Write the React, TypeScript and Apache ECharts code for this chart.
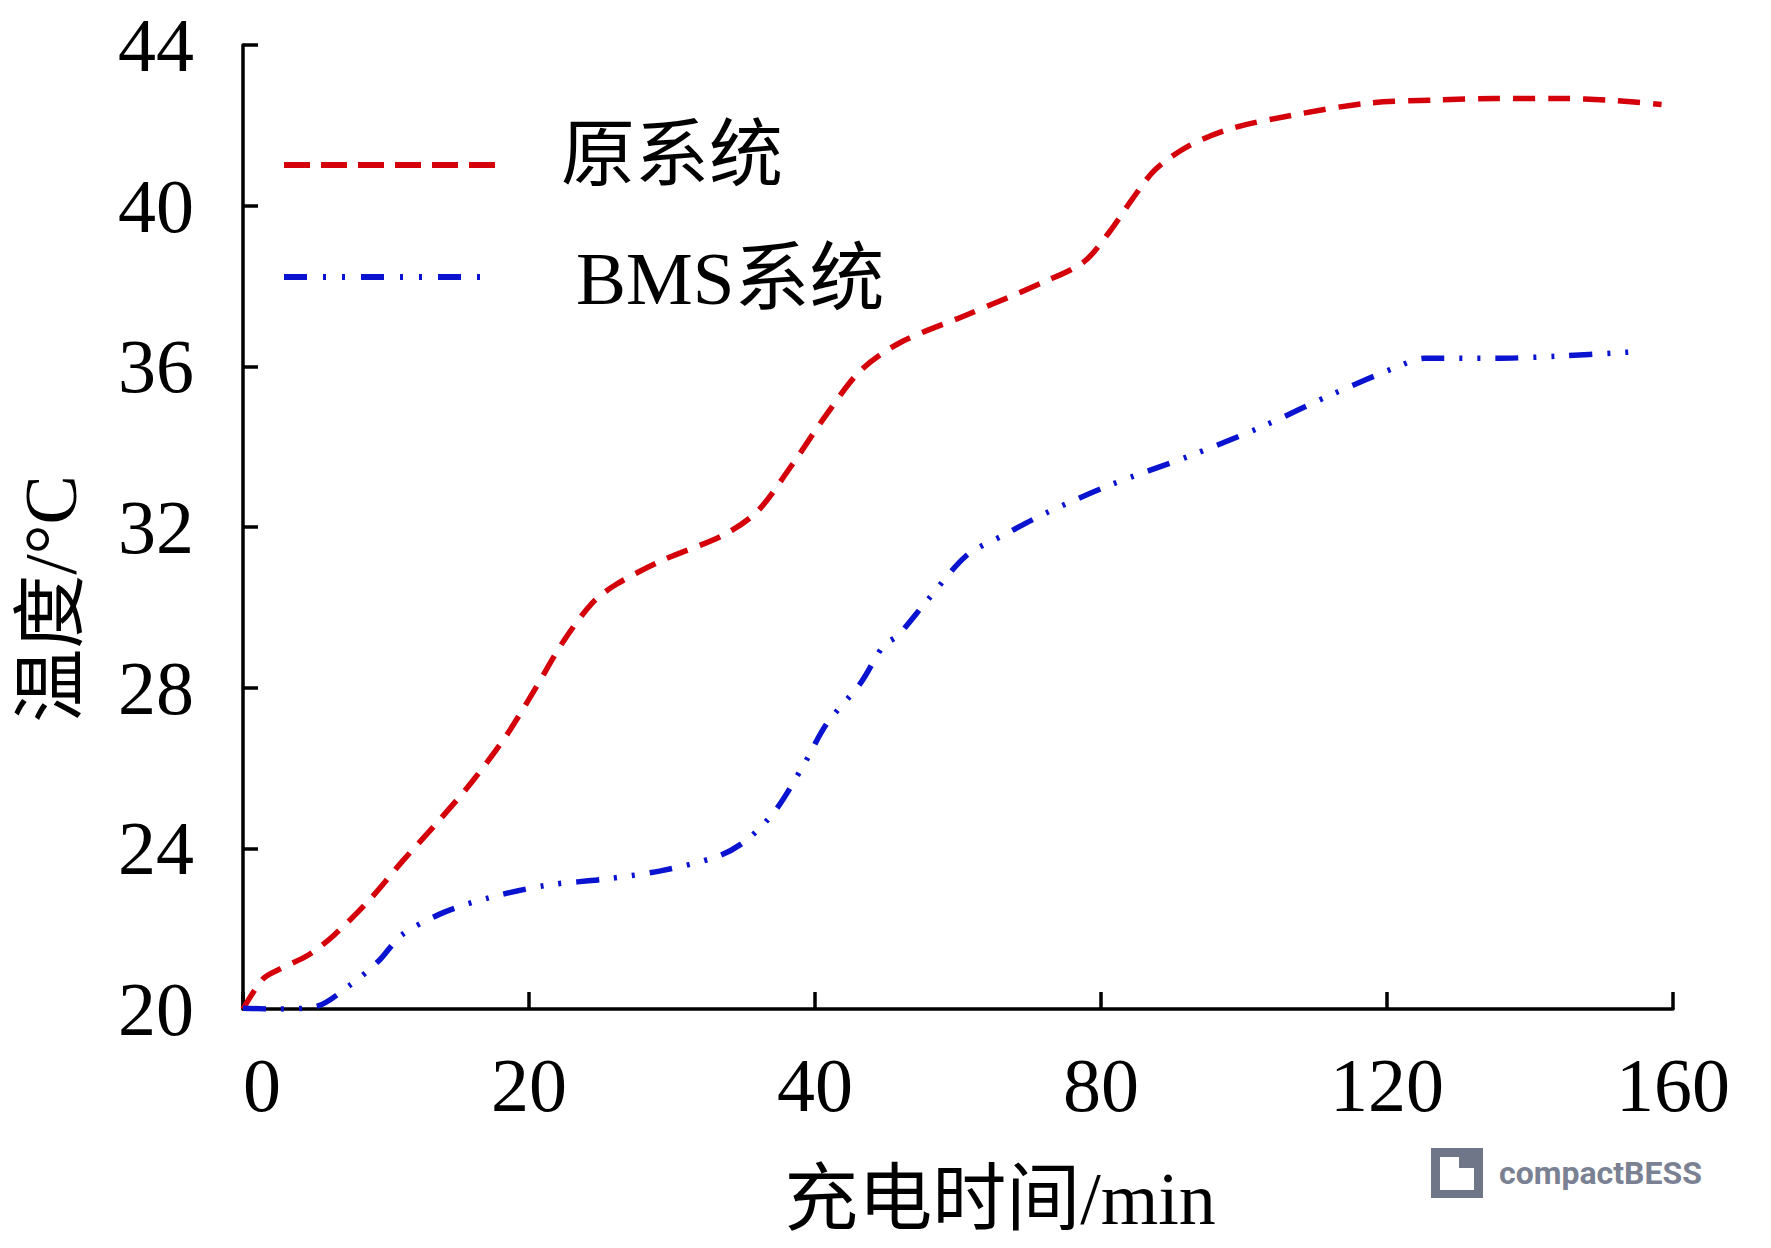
import React, { useEffect, useRef } from "react";
import * as echarts from "echarts";

// X axis: equally spaced ticks with these labels (minutes)
const xTickLabels = ["0", "20", "40", "80", "120", "160"];
const yMin = 20;
const yMax = 44;
const yStep = 4;

const seriesNames = ["原系统", "BMS系统"];

// positions are in tick-units along the x axis (0..5), values in °C
const originalSystem: [number, number][] = [
  [0, 20], [0.07, 20.75], [0.13, 21.0], [0.23, 21.35], [0.32, 21.85], [0.44, 22.7],
  [0.56, 23.7], [0.68, 24.65], [0.8, 25.65], [0.92, 26.8], [1.02, 27.95], [1.12, 29.15],
  [1.22, 30.1], [1.3, 30.55], [1.46, 31.15], [1.68, 31.8], [1.8, 32.4], [1.92, 33.55],
  [2.04, 34.8], [2.16, 35.9], [2.3, 36.6], [2.53, 37.28], [2.8, 38.1], [2.94, 38.6],
  [3.03, 39.35], [3.11, 40.17], [3.19, 40.9], [3.31, 41.5], [3.46, 41.93], [3.66, 42.24],
  [3.93, 42.55], [4.17, 42.63], [4.38, 42.67], [4.59, 42.67], [4.79, 42.62], [4.96, 42.52],
];

const bmsSystem: [number, number][] = [
  [0, 20.02], [0.11, 20.0], [0.25, 20.05], [0.375, 20.6], [0.475, 21.2], [0.555, 21.84],
  [0.7, 22.4], [0.86, 22.77], [1.06, 23.08], [1.26, 23.23], [1.46, 23.44], [1.66, 23.8],
  [1.76, 24.2], [1.86, 24.93], [1.96, 26.07], [2.04, 27.09], [2.16, 28.12], [2.24, 29.05],
  [2.29, 29.3], [2.39, 30.15], [2.53, 31.29], [2.66, 31.8], [2.8, 32.32], [3.03, 33.04],
  [3.31, 33.77], [3.56, 34.49], [3.81, 35.31], [4.05, 36.03], [4.13, 36.2], [4.38, 36.2],
  [4.59, 36.25], [4.86, 36.36],
];

const RED = "#d4000a";
const BLUE = "#0a14d0";
const FONT = "'Liberation Serif', 'Times New Roman', 'Noto Sans CJK SC', serif";
const redDash = [22, 13];
const blueDash = [23, 15, 3, 15, 3, 15];

export default function App() {
  const ref = useRef<HTMLDivElement>(null);

  useEffect(() => {
    if (!ref.current) return;
    const chart = echarts.init(ref.current, undefined, { renderer: "svg" });

    const option: any = {
      animation: false,
      backgroundColor: "#ffffff",
      grid: { left: 243, right: 98, top: 45, bottom: 239, containLabel: false },
      xAxis: {
        type: "value",
        min: 0,
        max: xTickLabels.length - 1,
        interval: 1,
        name: "充电时间/min",
        nameLocation: "middle",
        nameGap: 153,
        nameTextStyle: {
          fontFamily: FONT,
          fontSize: 74,
          color: "#000",
          padding: [0, 0, 0, 84],
        },
        axisLine: { show: true, lineStyle: { color: "#000", width: 3.5 } },
        axisTick: { show: true, inside: true, length: 17, lineStyle: { color: "#000", width: 3.5 } },
        axisLabel: {
          fontFamily: FONT,
          fontSize: 76,
          color: "#000",
          margin: 38,
          alignMinLabel: "left",
          formatter: (v: number) => xTickLabels[Math.round(v)] ?? "",
        },
        splitLine: { show: false },
      },
      yAxis: {
        type: "value",
        min: yMin,
        max: yMax,
        interval: yStep,
        name: "温度/°C",
        nameLocation: "middle",
        nameGap: 155,
        nameRotate: 90,
        nameTextStyle: { fontFamily: FONT, fontSize: 74, color: "#000", padding: [0, 144, 0, 0] },
        axisLine: { show: true, lineStyle: { color: "#000", width: 3.5 } },
        axisTick: { show: true, inside: true, length: 15, lineStyle: { color: "#000", width: 3.5 } },
        axisLabel: { fontFamily: FONT, fontSize: 76, color: "#000", margin: 49 },
        splitLine: { show: false },
      },
      series: [
        {
          name: seriesNames[0],
          type: "line",
          data: originalSystem,
          showSymbol: false,
          smooth: 0.3,
          lineStyle: { color: RED, width: 5.5, type: redDash, cap: "butt" },
          z: 3,
        },
        {
          name: seriesNames[1],
          type: "line",
          data: bmsSystem,
          showSymbol: false,
          smooth: 0.3,
          lineStyle: { color: BLUE, width: 5.5, type: blueDash, cap: "butt" },
          z: 3,
        },
      ],
      graphic: [
        {
          type: "line",
          shape: { x1: 284, y1: 165, x2: 497, y2: 165 },
          style: { stroke: RED, lineWidth: 6, lineDash: [26, 11] },
        },
        {
          type: "text",
          x: 561,
          y: 155,
          style: { text: seriesNames[0], fontFamily: FONT, fontSize: 74, fill: "#000", verticalAlign: "middle", align: "left" },
        },
        {
          type: "line",
          shape: { x1: 284, y1: 277, x2: 482, y2: 277 },
          style: { stroke: BLUE, lineWidth: 6, lineDash: [23, 16, 3, 16, 3, 16] },
        },
        {
          type: "text",
          x: 576,
          y: 278,
          style: { text: seriesNames[1], fontFamily: FONT, fontSize: 75, fill: "#000", verticalAlign: "middle", align: "left" },
        },
        {
          type: "rect",
          shape: { x: 1431, y: 1148, width: 52, height: 50 },
          style: { fill: "#6e7688" },
        },
        {
          type: "polygon",
          shape: {
            points: [
              [1440, 1157], [1459, 1157], [1459, 1168], [1474, 1168], [1474, 1190], [1440, 1190],
            ],
          },
          style: { fill: "#ffffff" },
        },
        {
          type: "text",
          x: 1499,
          y: 1173,
          style: {
            text: "compactBESS",
            fontFamily: "Roboto, 'Noto Sans', sans-serif",
            fontWeight: "bold",
            fontSize: 32,
            fill: "#7a8193",
            verticalAlign: "middle",
            align: "left",
          },
        },
      ],
    };

    chart.setOption(option);
    return () => chart.dispose();
  }, []);

  return (
    <div
      ref={ref}
      style={{ position: "fixed", left: 0, top: 0, width: 1771, height: 1248, background: "#fff" }}
    />
  );
}
